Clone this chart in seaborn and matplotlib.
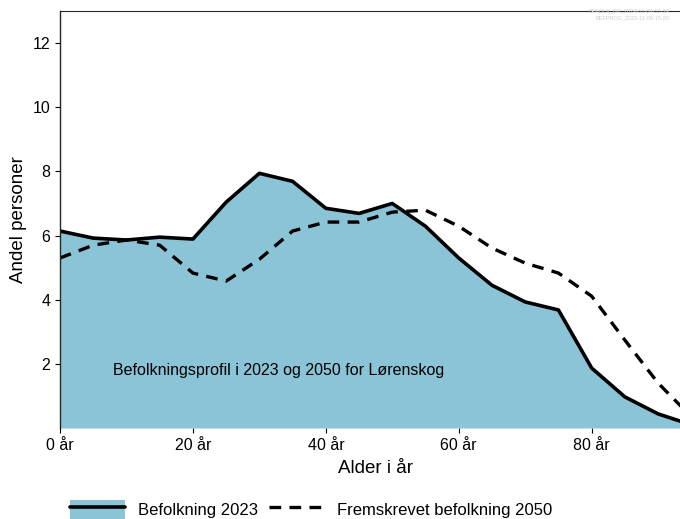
import matplotlib
matplotlib.use("Agg")
import matplotlib.pyplot as plt
import seaborn as sns
import pandas as pd
from matplotlib.patches import Patch
from matplotlib.lines import Line2D

# age groups (start of 5-year group)
ages = [0, 5, 10, 15, 20, 25, 30, 35, 40, 45, 50, 55, 60, 65, 70, 75, 80, 85, 90, 95]
# share of population, 2023
pop_2023 = [6.14, 5.92, 5.86, 5.95, 5.89, 7.04, 7.94, 7.69, 6.85, 6.69,
            7.00, 6.29, 5.30, 4.45, 3.93, 3.68, 1.87, 0.97, 0.44, 0.10]
# projected share, 2050
pop_2050 = [5.30, 5.70, 5.86, 5.70, 4.83, 4.58, 5.26, 6.14, 6.42, 6.42,
            6.73, 6.79, 6.29, 5.61, 5.14, 4.83, 4.11, 2.74, 1.40, 0.35]

xticks = [0, 20, 40, 60, 80]
xtick_labels = ['0 år', '20 år', '40 år', '60 år', '80 år']
yticks = [2, 4, 6, 8, 10, 12]

df = pd.DataFrame({'Alder': ages, 'P2023': pop_2023, 'P2050': pop_2050})

sns.set_style('ticks')
plt.rcParams['font.family'] = ['Liberation Sans', 'DejaVu Sans']
plt.rcParams['text.color'] = 'black'
plt.rcParams['axes.labelcolor'] = 'black'
plt.rcParams['xtick.color'] = 'black'
plt.rcParams['ytick.color'] = 'black'

fill_col = '#8AC4D6'

fig = plt.figure(figsize=(6.8, 5.19), dpi=100)
ax = fig.add_axes([60 / 680, 1 - 428 / 519, 630 / 680, 417 / 519])

ax.fill_between(df['Alder'], 0, df['P2023'], color=fill_col, lw=0)
sns.lineplot(data=df, x='Alder', y='P2023', color='black', lw=2.6, ax=ax)
sns.lineplot(data=df, x='Alder', y='P2050', color='black', lw=2.4, ax=ax,
             linestyle=(0, (3.5, 2.5)))

ax.set_xlim(0, 94.8)
ax.set_ylim(0, 13)
ax.set_xticks(xticks)
ax.set_xticklabels(xtick_labels, fontsize=11.5)
ax.set_yticks(yticks)
ax.tick_params(axis='y', labelsize=11.5)
ax.set_xlabel('Alder i år', fontsize=13.5, labelpad=5)
ax.set_ylabel('Andel personer', fontsize=13.5)

for s in ['right', 'bottom']:
    ax.spines[s].set_visible(False)
ax.spines['top'].set_linewidth(0.8)
ax.spines['left'].set_linewidth(1.0)

ax.text(8, 1.65, 'Befolkningsprofil i 2023 og 2050 for Lørenskog', fontsize=11.5)

fig.text(0.985, 0.977, 'BEFOLK_GK_2024-01-04-12-34', fontsize=4, color='#cccccc', ha='right')
fig.text(0.985, 0.963, 'BEFPROG_2023-11-06-15-20', fontsize=4, color='#cccccc', ha='right')

h1 = (Patch(facecolor=fill_col, edgecolor='none'), Line2D([], [], color='black', lw=2.6))
h2 = Line2D([], [], color='black', lw=2.4, linestyle=(0, (3.5, 2.5)))
ax.legend([h1, h2], ['Befolkning 2023', 'Fremskrevet befolkning 2050'],
          loc='center left', bbox_to_anchor=(0.016, -0.195), ncol=2, frameon=False,
          fontsize=12, handlelength=3.3, handleheight=1.4, handletextpad=0.75,
          columnspacing=0.7, borderaxespad=0, borderpad=0)

fig.savefig('out.png', dpi=100)
